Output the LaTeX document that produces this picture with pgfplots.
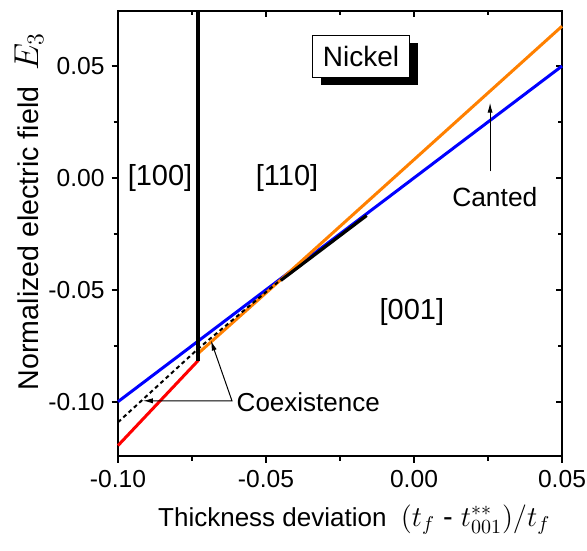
\documentclass[border=0pt]{standalone}
\usepackage{pgfplots}
\pgfplotsset{compat=1.18}
\usepackage{fontspec}
\setmainfont{Liberation Sans}
\usetikzlibrary{arrows.meta,shadows}
\definecolor{myorange}{RGB}{255,128,0}
\begin{document}
\begin{tikzpicture}
\pgfplotsset{
  common/.style={
    width=222pt, height=222.75pt, scale only axis,
    xmin=-0.10, xmax=0.05, ymin=-0.1245, ymax=0.0746,
    xtick={-0.10,-0.05,0,0.05}, ytick={-0.10,-0.05,0,0.05},
    minor tick num=1,
    axis line style={line width=1pt},
    major tick length=3.2pt, minor tick length=2.2pt,
    every tick/.style={black, line width=1pt},
  }
}
\begin{axis}[common, tick align=inside, xtick pos=right, ytick pos=right,
  xticklabels={}, yticklabels={}]
\end{axis}
\begin{axis}[common, name=main, tick align=outside, xtick pos=left, ytick pos=left,
  /pgf/number format/assume math mode=true,
  tick label style={font=\fontsize{12.3}{14}\selectfont,
    /pgf/number format/fixed, /pgf/number format/fixed zerofill,
    /pgf/number format/precision=2},
  xlabel style={font=\fontsize{13}{15}\selectfont, at={(axis description cs:0.532,-0.156)}, anchor=base},
  ylabel style={font=\fontsize{14.3}{16}\selectfont, at={(axis description cs:-0.2005,0.55)}, anchor=center},
  xlabel={Thickness deviation \ {\fontsize{14.5}{17}\selectfont$(t_f$ - $t^{**}_{001})/t_f$}},
  ylabel={Normalized electric field \ {\fontsize{16.5}{18}\selectfont$E_3$}},
  clip=false]
% blue line
\addplot[blue, line width=1.5pt] coordinates {(-0.10,-0.10) (0.05,0.05)};
% orange line
\addplot[myorange, line width=1.5pt] coordinates {(-0.0729,-0.0784) (-0.045,-0.0455) (0.05,0.0678)};
% red line
\addplot[red, line width=1.5pt] coordinates {(-0.10,-0.1196) (-0.0729,-0.0816)};
% dashed coexistence
\addplot[black, line width=1pt, dash pattern=on 2pt off 1.6pt] coordinates {(-0.10,-0.1092) (-0.0729,-0.0763) (-0.045,-0.0455)};
% black solid segment
\addplot[black, line width=1.6pt] coordinates {(-0.045,-0.0458) (-0.016,-0.0168)};
% vertical boundary
\addplot[black, line width=2pt] coordinates {(-0.0729,-0.0816) (-0.0729,0.0746)};
% labels
\node[font=\fontsize{14.5}{16}\selectfont] at (axis cs:-0.0858,0.0) {[100]};
\node[font=\fontsize{14.5}{16}\selectfont] at (axis cs:-0.0429,0.0) {[110]};
\node[font=\fontsize{14.5}{16}\selectfont] at (axis cs:-0.0007,-0.0598) {[001]};
\node[font=\fontsize{13.2}{15}\selectfont] at (axis cs:0.0273,-0.0085) {Canted};
\node[font=\fontsize{13}{15}\selectfont, anchor=west, inner sep=1pt] at (axis cs:-0.0607,-0.1003) {Coexistence};
\draw[line width=0.5pt, -{Latex[length=5pt,width=2.6pt]}] (axis cs:0.0257,0.0029) -- (axis cs:0.0257,0.0336);
\draw[line width=0.5pt, {Latex[length=5pt,width=2.6pt]}-{Latex[length=5pt,width=2.6pt]}] (axis cs:-0.0686,-0.0727) -- (axis cs:-0.0615,-0.0996) -- (axis cs:-0.0916,-0.0996);
\node[draw, fill=white, line width=0.6pt,
  drop shadow={shadow xshift=4pt, shadow yshift=-4pt, fill=black, opacity=1},
  minimum width=48.5pt, minimum height=21pt,
  font=\fontsize{14}{16}\selectfont] at (axis cs:-0.0179,0.0544) {Nickel};
\end{axis}
\pgfresetboundingbox
\path (main.south west) ++(-59pt,-46.75pt) rectangle ++(293.5pt,275pt);
\end{tikzpicture}
\end{document}
